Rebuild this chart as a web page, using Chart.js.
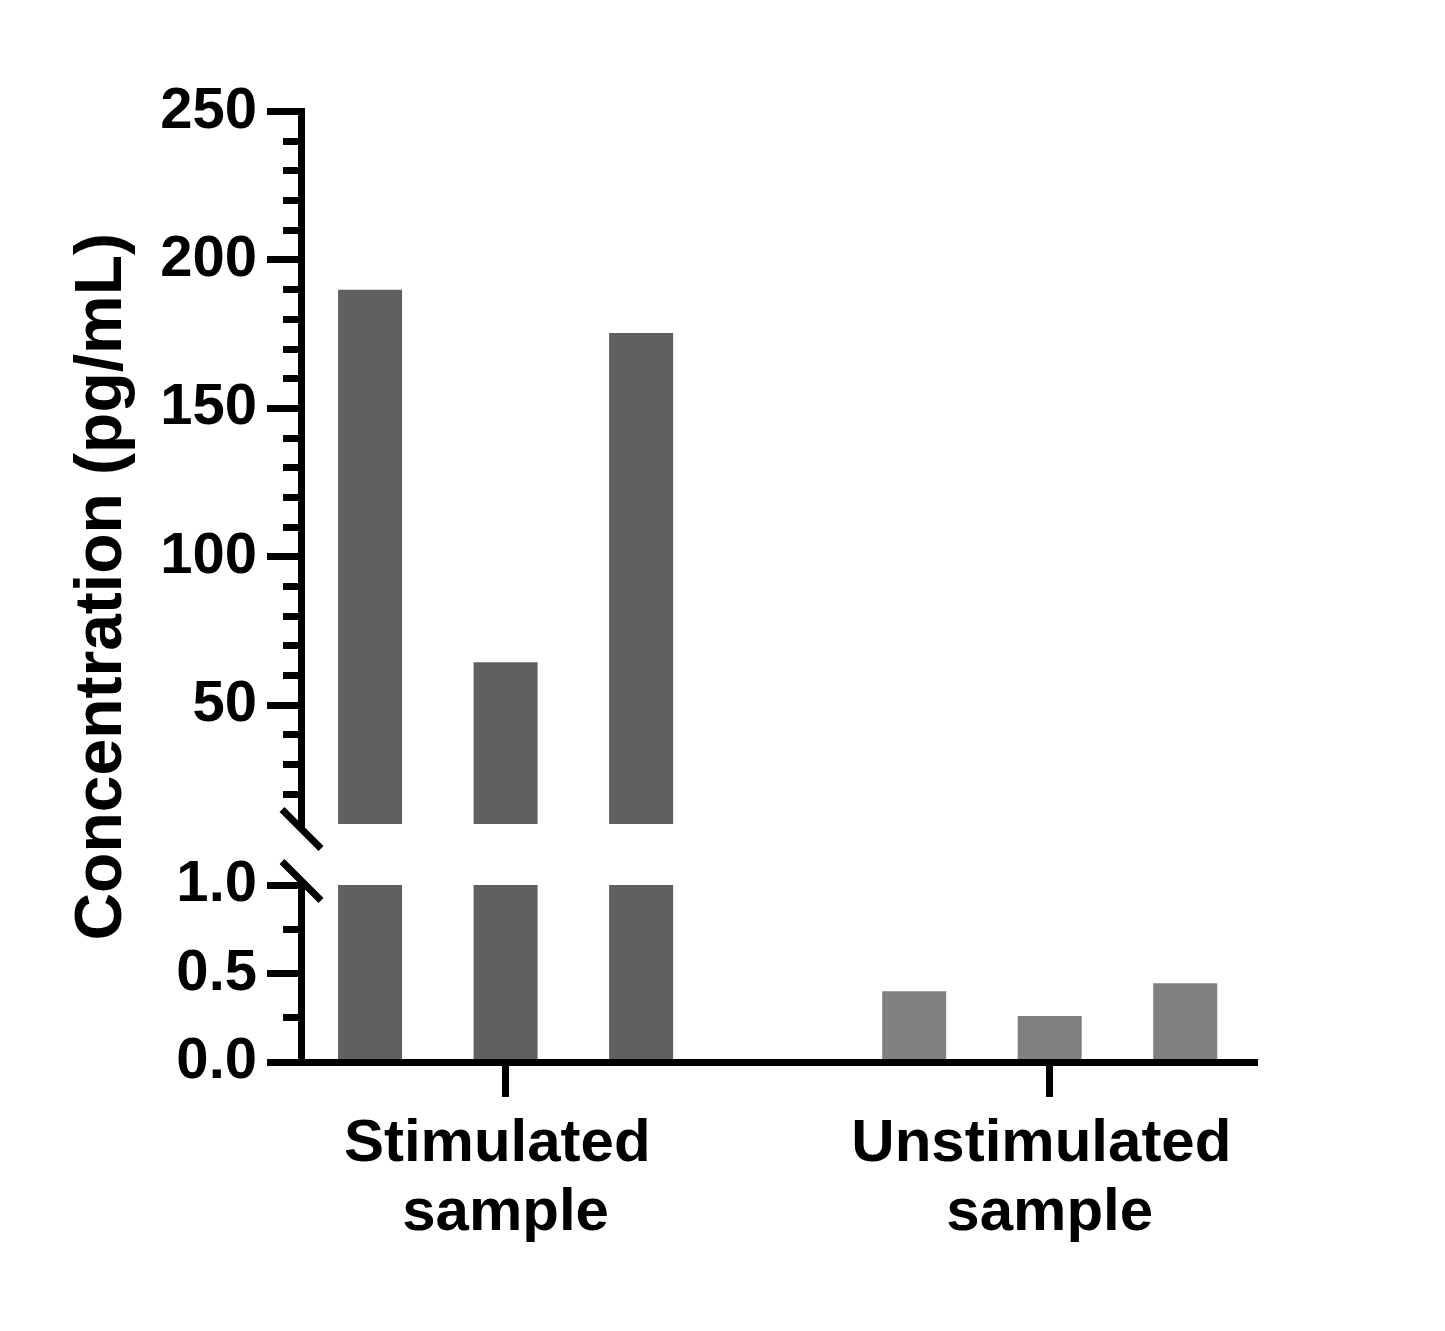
<!DOCTYPE html>
<html>
<head>
<meta charset="utf-8">
<script src="https://cdn.jsdelivr.net/npm/chart.js@4.4.1/dist/chart.umd.min.js"></script>
<style>
html, body { margin: 0; padding: 0; background: #ffffff; }
canvas { display: block; }
</style>
</head>
<body>
<canvas id="chart" width="1445" height="1331"></canvas>
<script>
// ---- data ----
const categories = ['Stimulated sample', 'Unstimulated sample'];
const replicates = ['Replicate 1', 'Replicate 2', 'Replicate 3'];
const stimulated = [190, 64.5, 175.4];
const unstimulated = [0.40, 0.26, 0.445];
const topMajorTicks = [50, 100, 150, 200, 250];
const bottomMajorTicks = [0, 0.5, 1.0];
const yTitleText = 'Concentration (pg/mL)';

// ---- style ----
const FONT = "'Liberation Sans', Arial, Helvetica, sans-serif";
const groupColors = ['#606060', '#808080'];
const groups = [stimulated, unstimulated];

const datasets = [];
replicates.forEach((rep, i) => {
  ['yTop', 'yBottom'].forEach(axisId => {
    datasets.push({
      label: rep,
      yAxisID: axisId,
      stack: rep,
      data: categories.map((c, k) => ({ x: k + 1, y: groups[k][i] })),
      backgroundColor: groupColors,
      borderWidth: 0,
      categoryPercentage: 0.7472,
      barPercentage: 0.4723
    });
  });
});

function valueAxis(min, max, step, majors, fmt, weight, stackWeight) {
  return {
    type: 'linear',
    position: 'left',
    stack: 'left',
    stackWeight: stackWeight,
    weight: weight,
    min: min,
    max: max,
    stacked: false,
    afterFit: s => { s.width = 145; },
    afterBuildTicks: s => { s.ticks = s.ticks.filter(t => t.value !== min || majors.includes(t.value)); },
    ticks: {
      stepSize: step,
      autoSkip: false,
      padding: 10,
      color: '#000000',
      font: { family: FONT, size: 58, weight: 'bold' },
      callback: v => majors.includes(v) ? fmt(v) : ''
    },
    grid: {
      drawOnChartArea: false,
      tickLength: 34,
      tickWidth: 7,
      tickColor: '#000000',
      z: 1,
      tickBorderDash: ctx => (ctx.tick && majors.includes(ctx.tick.value)) ? [] : [0, 16, 100, 0]
    },
    border: { display: true, width: 7, color: '#000000', z: 1 }
  };
}

const segmentClip = {
  id: 'segmentClip',
  beforeDatasetDraw(chart, args) {
    const s = chart.scales[args.meta.yAxisID];
    const a = chart.chartArea;
    const ctx = chart.ctx;
    ctx.save();
    ctx.beginPath();
    ctx.rect(a.left, s.top, a.right - a.left, s.bottom - s.top);
    ctx.clip();
  },
  afterDatasetDraw(chart) {
    chart.ctx.restore();
  }
};

const axisBreak = {
  id: 'axisBreak',
  afterDraw(chart) {
    const ctx = chart.ctx;
    const x = Math.round(chart.chartArea.left - 3.5) + 3.5;
    const yT = chart.scales.yTop;
    const yB = chart.scales.yBottom;
    const c1 = yT.bottom + 5;
    const c2 = yB.top - 4;
    const h = 19.5;
    ctx.save();
    ctx.strokeStyle = '#000000';
    ctx.lineWidth = 7;
    ctx.beginPath();
    ctx.moveTo(x, yT.bottom);
    ctx.lineTo(x, c1);
    ctx.moveTo(x, c2);
    ctx.lineTo(x, yB.top);
    ctx.stroke();
    ctx.beginPath();
    ctx.moveTo(x - h, c1 - h);
    ctx.lineTo(x + h, c1 + h);
    ctx.moveTo(x - h, c2 - h);
    ctx.lineTo(x + h, c2 + h);
    ctx.stroke();
    ctx.restore();
  }
};

new Chart(document.getElementById('chart'), {
  type: 'bar',
  data: { datasets: datasets },
  plugins: [segmentClip, axisBreak],
  options: {
    responsive: false,
    animation: false,
    devicePixelRatio: 1,
    layout: { padding: { left: 56, top: 111.5, right: 188, bottom: 69 } },
    plugins: {
      legend: { display: false },
      tooltip: { enabled: false },
      title: { display: false }
    },
    scales: {
      x: {
        type: 'linear',
        position: 'bottom',
        min: 0.624,
        max: 2.381,
        offset: false,
        afterFit: s => { s.height = 200; },
        afterBuildTicks: s => { s.ticks = categories.map((c, i) => ({ value: i + 1 })); },
        ticks: {
          autoSkip: false,
          maxRotation: 0,
          minRotation: 0,
          padding: 13,
          color: '#000000',
          font: { family: FONT, size: 60, weight: 'bold', lineHeight: 1.15 },
          callback: v => {
            const c = categories[Math.round(v) - 1];
            return c ? c.replace(' ', ' \n').split('\n') : '';
          }
        },
        grid: {
          offset: false,
          drawOnChartArea: false,
          tickLength: 35,
          tickWidth: 7,
          tickColor: '#000000',
          z: 1
        },
        border: { display: true, width: 7, color: '#000000', z: 1 }
      },
      yTitle: {
        type: 'linear',
        position: 'left',
        weight: 10,
        afterFit: s => { s.width = 100; },
        ticks: { display: false },
        grid: { display: false },
        border: { display: false },
        title: {
          display: true,
          text: yTitleText,
          color: '#000000',
          padding: { top: 7, bottom: 0 },
          font: { family: FONT, size: 66, weight: 'bold', lineHeight: 1.2 }
        }
      },
      yTop: valueAxis(10, 250, 10, topMajorTicks, v => String(v), 3, 712.5),
      yGap: { type: 'linear', position: 'left', stack: 'left', stackWeight: 61, weight: 2, display: false },
      yBottom: valueAxis(0, 1, 0.25, bottomMajorTicks, v => v.toFixed(1), 1, 177)
    }
  }
});
</script>
</body>
</html>
